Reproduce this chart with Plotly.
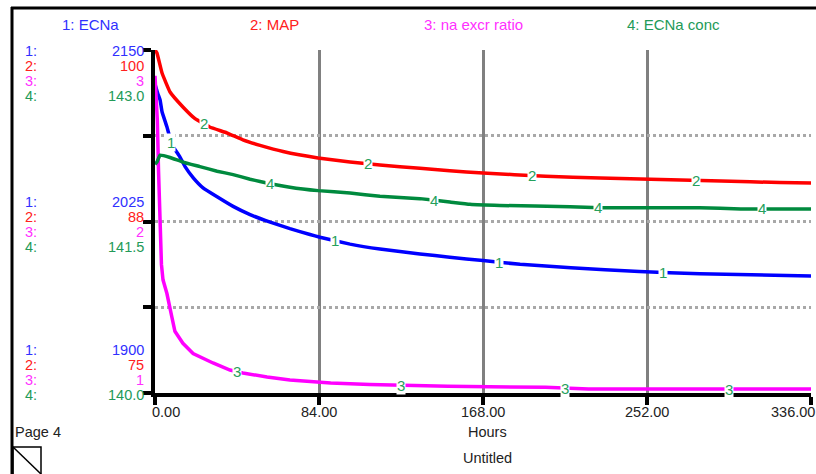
import numpy as np
import plotly.graph_objects as go

# ---------------- data ----------------
SERIES_NAMES = ["1: ECNa", "2: MAP", "3: na excr ratio", "4: ECNa conc"]

T_ECNA = [0, 1.5, 2.6, 3.6, 6.1, 8.7, 12.8, 15.4, 19.5, 24.6, 31.8, 40, 48.7, 59, 69.1,
          79.4, 84.5, 99.9, 115.2, 135.7, 151, 168, 187, 213, 248, 279, 336]
ECNA = [2125, 2118, 2113.6, 2105, 2094, 2081, 2072, 2065, 2057, 2049.5, 2043, 2036,
        2030, 2024.5, 2019.8, 2015.5, 2013.5, 2008.5, 2004.9, 2001.3, 1999, 1996.5, 1993.8,
        1991.3, 1988.5, 1986.9, 1985.3]

T_MAP = [0, 1, 3.6, 7.7, 14.3, 20.5, 28, 37, 45, 53.8, 65.6, 83.5, 99.9, 115.2, 135.7,
         151, 168, 200, 228, 259, 290, 320, 336]
MAP = [100, 99.78, 98.32, 96.94, 95.85, 95.0, 94.39, 93.95, 93.45, 93.05, 92.6, 92.13,
       91.84, 91.62, 91.38, 91.2, 91.03, 90.8, 90.67, 90.56, 90.45, 90.34, 90.31]

T_RATIO = [0, 1.2, 1.8, 2.6, 3.3, 4.1, 6.1, 8.7, 10.2, 14.3, 19.5, 29.7, 38.4, 45, 57.4,
           69.1, 90, 110, 150, 200, 222, 336]
RATIO = [2.85, 2.59, 2.30, 1.91, 1.75, 1.66, 1.58, 1.44, 1.36, 1.29, 1.23, 1.175, 1.134,
         1.117, 1.093, 1.076, 1.058, 1.05, 1.04, 1.033, 1.023, 1.023]

T_CONC = [0, 1, 2.6, 7.7, 14.3, 23, 31.8, 40, 48.7, 53.8, 69.1, 83.5, 99.9, 115.2, 135.7,
          151, 161.3, 176.6, 212.6, 228, 279, 300, 336]
CONC = [142.0, 142.02, 142.08, 142.06, 142.02, 141.98, 141.94, 141.91, 141.87, 141.85,
        141.80, 141.77, 141.75, 141.72, 141.70, 141.67, 141.65, 141.64, 141.63, 141.62,
        141.62, 141.61, 141.61]

X_TICKS = [0, 84, 168, 252, 336]
X_TICK_LABELS = ["0.00", "84.00", "168.00", "252.00", "336.00"]
X_TITLE = "Hours"
PAGE_TITLE = "Untitled"
PAGE_LABEL = "Page 4"

RANGE_ECNA = [1900, 2150]
RANGE_MAP = [75, 100]
RANGE_RATIO = [1, 3]
RANGE_CONC = [140, 143]

SCALE_TOP = ["2150", "100", "3", "143.0"]
SCALE_MID = ["2025", "88", "2", "141.5"]
SCALE_BOT = ["1900", "75", "1", "140.0"]

# ---------------- styling ----------------
W, H = 816, 474
L, R, T, B = 155, 811, 50, 393   # plot area in pixels
FONT = "Arial, Liberation Sans, Helvetica, sans-serif"
LINE_COLORS = ["#0000FF", "#FF0000", "#FF00FF", "#008A3E"]
TEXT_COLORS = ["#3030FF", "#FF2020", "#FF30FF", "#239A58"]
LABEL_COLOR = "#25A05C"


def px(x):
    return (x - L) / (R - L)


def py(y):
    return (B - y) / (B - T)


fig = go.Figure()
series = [(T_ECNA, ECNA, "y"), (T_MAP, MAP, "y2"), (T_RATIO, RATIO, "y3"), (T_CONC, CONC, "y4")]
for i, (tt, vv, ax) in enumerate(series):
    line = dict(color=LINE_COLORS[i], width=3.5)
    if i == 2:
        line["shape"] = "linear"
    else:
        line["shape"] = "spline"
        line["smoothing"] = 0.3
    fig.add_trace(go.Scatter(x=tt, y=vv, yaxis=ax, mode="lines", line=line,
                             showlegend=False, hoverinfo="skip"))

annotations = []
# curve number labels
for i, (tt, vv, ax) in enumerate(series):
    for k in range(4):
        lt = 84 * k + 16.8 * i + 8.4
        lv = float(np.interp(lt, tt, vv))
        annotations.append(dict(x=lt, y=lv, xref="x", yref=ax, text=str(i + 1),
                                showarrow=False, font=dict(family=FONT, size=15, color=LABEL_COLOR),
                                bgcolor="white", borderpad=0, xanchor="center", yanchor="middle"))

# legend titles at top
legend_x = [60, 248, 422, 625]
for i, name in enumerate(SERIES_NAMES):
    annotations.append(dict(x=px(legend_x[i]), y=py(24), xref="paper", yref="paper", text=name,
                            showarrow=False, xanchor="left", yanchor="middle",
                            font=dict(family=FONT, size=15, color=TEXT_COLORS[i])))

# left scale labels
for group, y0 in [(SCALE_TOP, 51), (SCALE_MID, 202), (SCALE_BOT, 350)]:
    for i, val in enumerate(group):
        yy = py(y0 + 15 * i)
        annotations.append(dict(x=px(23), y=yy, xref="paper", yref="paper", text=f"{i + 1}:",
                                showarrow=False, xanchor="left", yanchor="middle",
                                font=dict(family=FONT, size=14.5, color=TEXT_COLORS[i])))
        annotations.append(dict(x=px(146), y=yy, xref="paper", yref="paper", text=val,
                                showarrow=False, xanchor="right", yanchor="middle",
                                font=dict(family=FONT, size=14.5, color=TEXT_COLORS[i])))

# x tick labels
anchors = ["left", "center", "center", "center", "right"]
shifts = [-5, 0, 0, 0, 6]
for xv, lab, an, sh in zip(X_TICKS, X_TICK_LABELS, anchors, shifts):
    annotations.append(dict(x=xv, y=py(412), xref="x", yref="paper", text=lab, showarrow=False,
                            xanchor=an, yanchor="middle", xshift=sh,
                            font=dict(family=FONT, size=14.5, color="#222222")))

annotations.append(dict(x=px(487), y=py(432), xref="paper", yref="paper", text=X_TITLE,
                        showarrow=False, xanchor="center", yanchor="middle",
                        font=dict(family=FONT, size=14.5, color="#222222")))
annotations.append(dict(x=px(488), y=py(458), xref="paper", yref="paper", text=PAGE_TITLE,
                        showarrow=False, xanchor="center", yanchor="middle",
                        font=dict(family=FONT, size=14.5, color="#222222")))
annotations.append(dict(x=px(13), y=py(432), xref="paper", yref="paper", text=PAGE_LABEL,
                        showarrow=False, xanchor="left", yanchor="middle",
                        font=dict(family=FONT, size=14.5, color="#222222")))

shapes = [
    dict(type="line", xref="paper", yref="paper", x0=px(11), x1=px(820), y0=py(8), y1=py(8),
         line=dict(color="black", width=3)),
    dict(type="line", xref="paper", yref="paper", x0=px(12), x1=px(12), y0=py(7), y1=py(480),
         line=dict(color="black", width=3)),
    dict(type="rect", xref="paper", yref="paper", x0=px(13), x1=px(41), y0=py(447), y1=py(476),
         line=dict(color="black", width=1.5)),
    dict(type="line", xref="paper", yref="paper", x0=px(13), x1=px(41), y0=py(447), y1=py(474),
         line=dict(color="black", width=1.5)),
]

y_ticks = list(np.linspace(RANGE_ECNA[0], RANGE_ECNA[1], 5))

fig.update_layout(
    width=W, height=H,
    margin=dict(l=L, r=W - R, t=T, b=H - B, pad=0),
    paper_bgcolor="white", plot_bgcolor="white",
    showlegend=False,
    xaxis=dict(range=[0, 336], tickvals=X_TICKS, showticklabels=False,
               showline=True, linecolor="black", linewidth=4,
               ticks="outside", ticklen=8, tickwidth=4, tickcolor="black",
               showgrid=True, gridcolor="#808080", gridwidth=3, zeroline=False,
               fixedrange=True),
    yaxis=dict(range=RANGE_ECNA, tickvals=y_ticks, showticklabels=False,
               showline=True, linecolor="black", linewidth=4,
               ticks="outside", ticklen=8, tickwidth=4, tickcolor="black",
               showgrid=True, gridcolor="#a8a8a8", gridwidth=3, griddash="dot",
               zeroline=False, fixedrange=True),
    yaxis2=dict(range=RANGE_MAP, overlaying="y", visible=False, fixedrange=True),
    yaxis3=dict(range=RANGE_RATIO, overlaying="y", visible=False, fixedrange=True),
    yaxis4=dict(range=RANGE_CONC, overlaying="y", visible=False, fixedrange=True),
    annotations=annotations,
    shapes=shapes,
)

fig.write_html("out.html", config={"displayModeBar": False},
               post_script="document.body.style.margin='0';document.body.style.overflow='hidden';")
